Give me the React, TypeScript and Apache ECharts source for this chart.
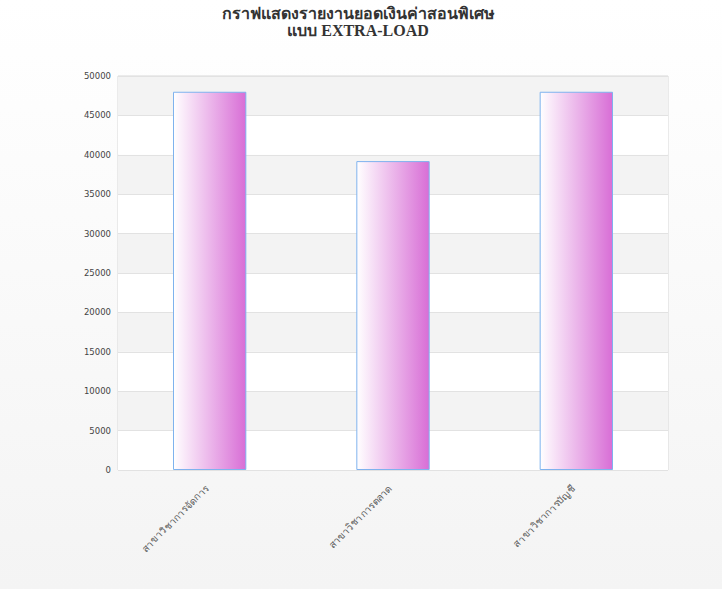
import React, { useEffect, useRef } from "react";
import * as echarts from "echarts";

const categories = ["สาขาวิชาการจัดการ", "สาขาวิชาการตลาด", "สาขาวิชาการบัญชี"];
const values = [48000, 39200, 48000];
const titleLines = ["กราฟแสดงรายงานยอดเงินค่าสอนพิเศษ", "แบบ EXTRA-LOAD"];

export default function App() {
  const ref = useRef<HTMLDivElement>(null);
  useEffect(() => {
    if (!ref.current) return;
    const chart = echarts.init(ref.current, null, { renderer: "svg" });
    chart.setOption({
      animation: false,
      backgroundColor: {
        type: "linear", x: 0, y: 0, x2: 0, y2: 1,
        colorStops: [
          { offset: 0, color: "#ffffff" },
          { offset: 1, color: "#f4f4f4" },
        ],
      },
      title: {
        text: titleLines.join("\n"),
        left: 353,
        top: 0,
        textAlign: "center",
        textStyle: {
          fontFamily: "'Liberation Serif', serif",
          fontWeight: "bold",
          fontSize: 16,
          lineHeight: 17,
          color: "#333333",
        },
      },
      grid: { left: 118, right: 54, top: 76, bottom: 119, show: true, borderColor: "#d8d8d8", borderWidth: 1 },
      xAxis: {
        type: "category",
        data: categories,
        axisLine: { show: false },
        axisTick: { show: false },
        axisLabel: {
          rotate: 45,
          interval: 0,
          margin: 14,
          fontSize: 10,
          color: "#5a5a5a",
          fontFamily: "'DejaVu Sans', sans-serif",
          padding: [0, 4, 0, 0],
        },
        splitLine: { show: false },
      },
      yAxis: {
        type: "value",
        min: 0,
        max: 50000,
        interval: 5000,
        axisLine: { show: false },
        axisTick: { show: false },
        axisLabel: {
          fontSize: 8.5,
          color: "#444444",
          margin: 7,
          fontFamily: "'DejaVu Sans', sans-serif",
          formatter: (v: number) => String(v),
        },
        splitLine: { show: true, lineStyle: { color: "#e2e2e2", width: 1 } },
        splitArea: { show: true, areaStyle: { color: ["#ffffff", "#f3f3f3"] } },
      },
      series: [
        {
          type: "bar",
          data: values,
          barWidth: "40%",
          itemStyle: {
            color: {
              type: "linear", x: 0, y: 0, x2: 1, y2: 0,
              colorStops: [
                { offset: 0, color: "#ffffff" },
                { offset: 1, color: "#d86ed6" },
              ],
            },
            borderColor: "#7fb2ee",
            borderWidth: 1,
          },
        },
      ],
    });
    return () => chart.dispose();
  }, []);
  return (
    <div
      ref={ref}
      style={{ position: "absolute", left: 0, top: 0, width: 722, height: 589 }}
    />
  );
}
